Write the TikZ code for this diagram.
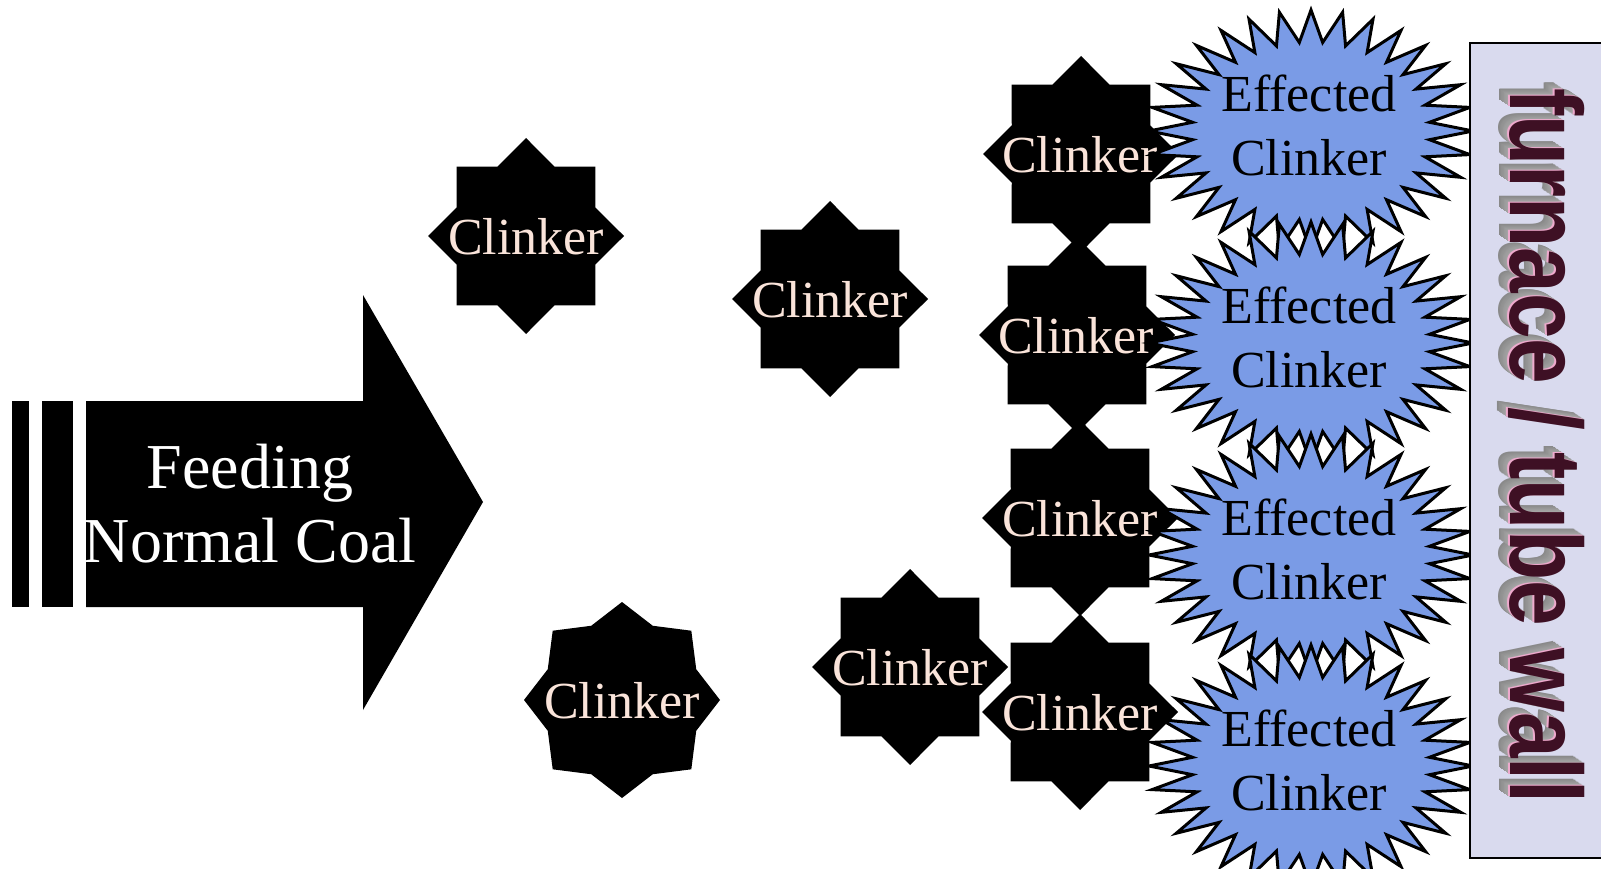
\documentclass[tikz,border=0pt]{standalone}
\usepackage{fontspec}
\setmainfont{Liberation Serif}
\newfontfamily\furnfont{Liberation Sans}
\usepackage{graphicx}
\definecolor{burstblue}{RGB}{122,155,230}
\definecolor{clinktext}{RGB}{250,228,218}
\definecolor{panelfill}{RGB}{217,218,238}
\definecolor{maroonfront}{RGB}{62,16,36}
\definecolor{pinkedge}{RGB}{238,170,205}
\definecolor{grayside}{RGB}{135,135,135}
\tikzset{
  clinkertext/.style={text=clinktext, inner sep=0pt, font=\fontsize{52}{64}\selectfont},
  effectedtext/.style={text=black, inner sep=0pt, align=center, font=\fontsize{52}{64}\selectfont},
  feedtext/.style={text=white, inner sep=0pt, align=center, font=\fontsize{64}{74}\selectfont},
  burstline/.style={fill=burstblue, draw=black, line width=3pt, line join=miter},
  walltext/.style={anchor=base west, rotate=-90, inner sep=0pt},
}
\newcommand\clinkshape[4]{%
  \begin{scope}[shift={(#1,#2)}]
    \fill[black] (90:#3) \foreach \i in {1,...,15}{ -- ({90+\i*22.5}:{#3*(1-(1-#4)*mod(\i,2))}) } -- cycle;
  \end{scope}}
\newcommand\burstshape[2]{%
  \begin{scope}[shift={(#1,#2)},xscale=162,yscale=121]
    \path[burstline] (90:1) \foreach \i in {1,...,63}{ -- ({90+\i*5.625}:{1-0.265*mod(\i,2)}) } -- cycle;
  \end{scope}}
\newcommand\furnword{\furnfont\bfseries\fontsize{82}{82}\selectfont\scalebox{1}[1.25]{furnace / tube wall}}
\begin{document}
\begin{tikzpicture}[x=1pt,y=-1pt]
\useasboundingbox (0,0) rectangle (1601,869);
\clip (0,0) rectangle (1601,869);
\fill[white] (0,0) rectangle (1601,869);

% arrow
\fill[black] (12,401) rectangle (29,607);
\fill[black] (42,401) rectangle (73,607);
\fill[black] (86,401) -- (363,401) -- (363,295) -- (483,502) -- (363,710) -- (363,607) -- (86,607) -- cycle;
\node[feedtext] (feed) at (250,504) {Feeding\\Normal Coal};

% clinker stars
\clinkshape{526}{236}{98}{0.765}
\clinkshape{830}{299}{98}{0.765}
\clinkshape{622}{700}{98}{0.82}
\clinkshape{910}{667}{98}{0.765}
\clinkshape{1081}{154}{98}{0.765}
\clinkshape{1077}{335}{98}{0.765}
\clinkshape{1080}{518}{98}{0.765}
\clinkshape{1080}{712}{98}{0.765}

\node[clinkertext] (c1) at (526,237) {Clinker};
\node[clinkertext] (c2) at (830,300) {Clinker};
\node[clinkertext] (c3) at (622,701) {Clinker};
\node[clinkertext] (c4) at (910,668) {Clinker};
\node[clinkertext] (c5) at (1080,155) {Clinker};
\node[clinkertext] (c6) at (1076,336) {Clinker};
\node[clinkertext] (c7) at (1080,519) {Clinker};
\node[clinkertext] (c8) at (1080,713) {Clinker};

% bursts
\burstshape{1311}{131}
\burstshape{1311}{343}
\burstshape{1311}{555}
\burstshape{1311}{766}
\node[effectedtext] (e1) at (1309,125) {Effected\\Clinker};
\node[effectedtext] (e2) at (1309,337) {Effected\\Clinker};
\node[effectedtext] (e3) at (1309,549) {Effected\\Clinker};
\node[effectedtext] (e4) at (1309,760) {Effected\\Clinker};

% furnace panel
\filldraw[fill=panelfill, draw=black, line width=2.5pt] (1470,43) rectangle (1640,858);
\foreach \k in {14,13,...,1}{
  \node[walltext, text=grayside!\the\numexpr 70+2*\k\relax!white] (wsh\k) at ({1510-0.75*\k},{88-0.5*\k}) {\furnword};
}
\node[walltext, text=pinkedge] (wpink) at (1508.8,87.2) {\furnword};
\node[walltext, text=maroonfront] (wall) at (1510,88) {\furnword};
\end{tikzpicture}
\end{document}
